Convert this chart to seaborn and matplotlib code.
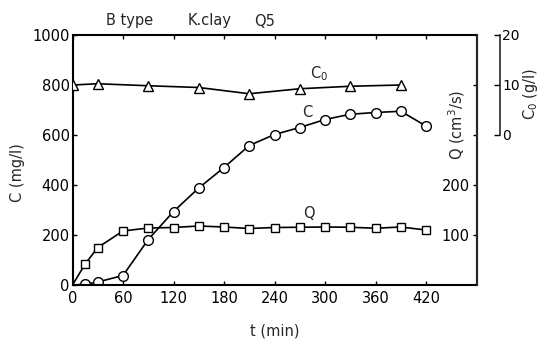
import matplotlib
matplotlib.use("Agg")
import matplotlib.pyplot as plt
import seaborn as sns
import pandas as pd

# ---- data ----
t_c = [0, 15, 30, 60, 90, 120, 150, 180, 210, 240, 270, 300, 330, 360, 390, 420]
c_vals = [0, 3, 12, 38, 182, 294, 388, 470, 558, 602, 630, 662, 683, 690, 695, 636]

t_q = [0, 15, 30, 60, 90, 120, 150, 180, 210, 240, 270, 300, 330, 360, 390, 420]
q_vals = [0, 42, 75, 108, 114, 115, 118, 116, 113, 115, 115.5, 116, 115.5, 113.5, 116, 110]

t_c0 = [0, 30, 90, 150, 210, 270, 330, 390]
c0_vals = [10.0, 10.25, 9.85, 9.5, 8.25, 9.25, 9.75, 10.0]

x_ticks = [0, 60, 120, 180, 240, 300, 360, 420]
c_ticks = [0, 200, 400, 600, 800, 1000]
q_ticks = [100, 200, 300, 400]
q_tick_labels = ["100", "200", "", ""]
c0_ticks = [0, 10, 20]

df_c = pd.DataFrame({"t": t_c, "C": c_vals})
df_q = pd.DataFrame({"t": t_q, "Q": q_vals})
df_c0 = pd.DataFrame({"t": t_c0, "C0": c0_vals})

sns.set_style("ticks")
plt.rcParams["font.family"] = ["DejaVu Sans"]
FS = 10.5

fig = plt.figure(figsize=(5.47, 3.40), dpi=100)
ax = fig.add_axes([72.5 / 547, (340 - 285) / 340, 404 / 547, 250 / 340])
ax2 = ax.twinx()
ax3 = ax.twinx()

line_kw = dict(color="black", linewidth=1.2, markerfacecolor="white",
               markeredgecolor="black", markeredgewidth=1.0)

sns.lineplot(data=df_c, x="t", y="C", ax=ax, marker="o", markersize=7,
             markevery=list(range(1, len(t_c))), sort=False, **line_kw)
sns.lineplot(data=df_q, x="t", y="Q", ax=ax2, marker="s", markersize=6,
             markevery=list(range(1, len(t_q))), sort=False, **line_kw)
sns.lineplot(data=df_c0, x="t", y="C0", ax=ax3, marker="^", markersize=6.5,
             sort=False, **line_kw)

# main axis
ax.set_xlim(0, 480)
ax.set_ylim(0, 1000)
ax.set_xticks(x_ticks)
ax.set_yticks(c_ticks)
ax.tick_params(axis="both", direction="in", length=3, width=1, labelsize=FS,
               colors="black")
ax.tick_params(axis="y", pad=2)
ax.tick_params(axis="x", pad=4, top=True)
ax.set_xlabel("t (min)", fontsize=FS)
ax.set_ylabel("C (mg/l)", fontsize=FS)
ax.xaxis.set_label_coords(0.5, -0.156)
ax.yaxis.set_label_coords(-0.118, 0.45)
for s in ["left", "bottom", "top", "right"]:
    ax.spines[s].set_linewidth(1.5)
    ax.spines[s].set_color("black")

# Q axis (labels inside, left of the right spine)
ax2.set_ylim(0, 500)
ax2.set_yticks(q_ticks, q_tick_labels)
ax2.tick_params(axis="y", direction="in", length=3, width=1, labelsize=FS,
                pad=-5, colors="black")
for tk in ax2.yaxis.get_major_ticks():
    tk.label2.set_horizontalalignment("right")
ax2.set_ylabel("")
ax2.text(0.952, 0.64, "Q (cm$^3$/s)", transform=ax2.transAxes, rotation=90,
         ha="center", va="center", fontsize=FS)
for s in ["left", "bottom", "top"]:
    ax2.spines[s].set_visible(False)
ax2.spines["right"].set_linewidth(1.5)

# C0 axis
ax3.set_ylim(-30, 20)
ax3.spines["right"].set_position(("axes", (500 - 72.5) / 404))
ax3.spines["right"].set_bounds(0, 20)
ax3.spines["right"].set_linewidth(1.2)
for s in ["left", "bottom", "top"]:
    ax3.spines[s].set_visible(False)
ax3.set_yticks(c0_ticks)
ax3.tick_params(axis="y", direction="in", length=4, width=1, labelsize=10,
                pad=1.5, colors="black")
ax3.set_ylabel("")
ax3.text((531 - 72.5) / 404, 0.764, "C$_0$ (g/l)", transform=ax3.transAxes,
         rotation=90, ha="center", va="center", fontsize=FS)

# curve labels
ax.text(293, 845, "C$_0$", ha="center", va="center", fontsize=FS)
ax.text(279, 690, "C", ha="center", va="center", fontsize=FS)
ax2.text(281, 144, "Q", ha="center", va="center", fontsize=FS)

# title
fig.text(106 / 547, 1 - 21 / 340, "B type", ha="left", va="center", fontsize=FS)
fig.text(188 / 547, 1 - 21 / 340, "K.clay", ha="left", va="center", fontsize=FS)
fig.text(254 / 547, 1 - 21 / 340, "Q5", ha="left", va="center", fontsize=FS)

fig.savefig("out.png", dpi=100, facecolor="white")
